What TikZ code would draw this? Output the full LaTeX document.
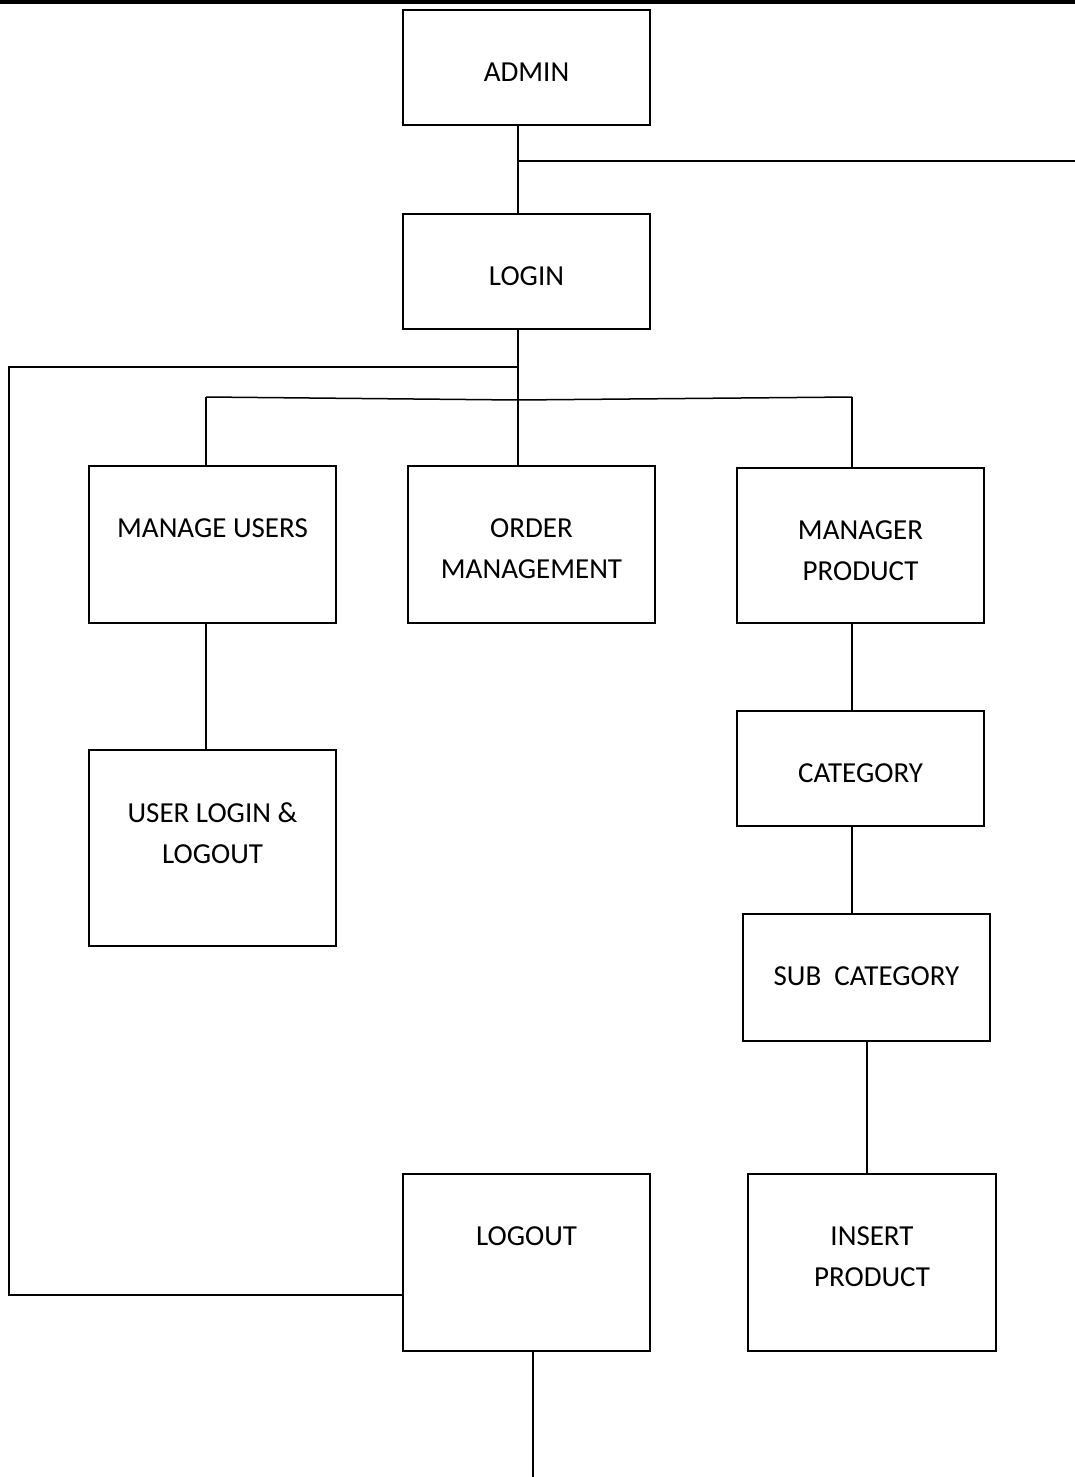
\documentclass[tikz,border=0pt]{standalone}
\usepackage{fontspec}
\setmainfont{Carlito}
\begin{document}
\begin{tikzpicture}[x=1pt,y=-1pt,
  box/.style={draw, line width=1.8pt, inner sep=0pt, outer sep=0pt},
  lbl/.style={anchor=north, inner sep=0pt, align=center, font=\fontsize{29}{41}\selectfont},
  conn/.style={line width=1.5pt}]
\useasboundingbox (0,0) rectangle (1075,1477);
\draw[line width=4pt] (0,2) -- (1075,2);
% boxes
\node[box, minimum width=247pt, minimum height=115pt] (admin)  at (526.5,67.5) {};
\node[box, minimum width=247pt, minimum height=115pt] (login)  at (526.5,271.5) {};
\node[box, minimum width=247pt, minimum height=157pt] (musers) at (212.5,544.5) {};
\node[box, minimum width=247pt, minimum height=157pt] (order)  at (531.5,544.5) {};
\node[box, minimum width=247pt, minimum height=155pt] (mprod)  at (860.5,545.5) {};
\node[box, minimum width=247pt, minimum height=196pt] (ulogin) at (212.5,848) {};
\node[box, minimum width=247pt, minimum height=115pt] (cat)    at (860.5,768.5) {};
\node[box, minimum width=247pt, minimum height=127pt] (subcat) at (866.5,977.5) {};
\node[box, minimum width=247pt, minimum height=177pt] (logout) at (526.5,1262.5) {};
\node[box, minimum width=248pt, minimum height=177pt] (insert) at (872,1262.5) {};
% labels
\node[lbl] (tadmin)  at ([yshift=-52.5pt]admin.north)  {ADMIN};
\node[lbl] (tlogin)  at ([yshift=-52.5pt]login.north)  {LOGIN};
\node[lbl] (tmusers) at ([yshift=-52.5pt]musers.north) {MANAGE USERS};
\node[lbl] (torder)  at ([yshift=-52.5pt]order.north)  {ORDER\\MANAGEMENT};
\node[lbl] (tmprod)  at ([yshift=-52.5pt]mprod.north)  {MANAGER\\PRODUCT};
\node[lbl] (tulogin) at ([yshift=-52.5pt]ulogin.north) {USER LOGIN \&\\LOGOUT};
\node[lbl] (tcat)    at ([yshift=-52.5pt]cat.north)    {CATEGORY};
\node[lbl] (tsubcat) at ([yshift=-52.5pt]subcat.north) {SUB\ \ CATEGORY};
\node[lbl] (tlogout) at ([yshift=-52.5pt]logout.north) {LOGOUT};
\node[lbl] (tinsert) at ([yshift=-52.5pt]insert.north) {INSERT\\PRODUCT};
% junction coordinates
\coordinate (busL) at (206,397);
\coordinate (busM) at (518,400);
\coordinate (busR) at (852,397);
\coordinate (adminR) at (1075,161);
\coordinate (lgL) at (9,367);
\coordinate (lgB) at (9,1295);
\coordinate (endB) at (533,1477);
\coordinate (si) at (867,1100);
% connectors
\draw[conn] (admin.south -| busM) -- (login.north -| busM);
\draw[conn] (busM |- adminR) -- (adminR);
\draw[conn] (login.south -| busM) -- (order.north -| busM);
\draw[conn] (busM |- lgL) -- (lgL) -- (lgB) -- (lgB -| logout.west);
\draw[conn] (busL) -- (busM) -- (busR);
\draw[conn] (busL) -- (busL |- musers.north);
\draw[conn] (busR) -- (busR |- mprod.north);
\draw[conn] (musers.south -| busL) -- (ulogin.north -| busL);
\draw[conn] (mprod.south -| busR) -- (cat.north -| busR);
\draw[conn] (cat.south -| busR) -- (subcat.north -| busR);
\draw[conn] (subcat.south -| si) -- (insert.north -| si);
\draw[conn] (logout.south -| endB) -- (endB);
\end{tikzpicture}
\end{document}
